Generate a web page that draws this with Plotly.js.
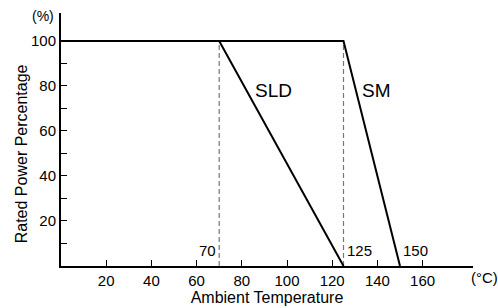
<!DOCTYPE html>
<html>
<head>
<meta charset="utf-8">
<script src="https://cdn.plot.ly/plotly-3.0.1.min.js"></script>
<style>html,body{margin:0;padding:0;background:#fff;}#chart{width:498px;height:308px;}</style>
</head>
<body>
<div id="chart"></div>
<script>
// Derating curves (ambient temperature °C, rated power %)
const sldTemp = [0, 70, 125];
const sldPower = [100, 100, 0];
const smTemp = [0, 125, 150];
const smPower = [100, 100, 0];
// Reference (knee) markers
const kneeSLD = [70, 70];
const kneeSM = [125, 125];
const kneePower = [0, 100];
// Tick labels
const xTickVals = [20, 40, 60, 80, 100, 120, 140, 160];
const xTickText = ['20', '40', '60', '80', '100', '120', '140', '160'];
const yTickVals = [10, 20, 30, 40, 50, 60, 70, 80, 90, 100];
const yTickText = ['', '20', '', '40', '', '60', '', '80', '', '100'];
// Point labels
const labelText = ['70', '125', '150'];
const labelX = [70, 125, 150];
const seriesNames = ['SLD', 'SM'];

const FONT = '"Liberation Sans", Arial, Helvetica, sans-serif';

const traces = [
  {x: kneeSLD, y: kneePower, mode: 'lines', line: {color: '#777', width: 1.2, dash: '5px,3px'}, hoverinfo: 'skip'},
  {x: kneeSM, y: kneePower, mode: 'lines', line: {color: '#777', width: 1.2, dash: '5px,3px'}, hoverinfo: 'skip'},
  {x: sldTemp, y: sldPower, mode: 'lines', name: seriesNames[0], line: {color: '#000', width: 2}},
  {x: smTemp, y: smPower, mode: 'lines', name: seriesNames[1], line: {color: '#000', width: 2}}
];

const annotations = [
  {x: labelX[0], y: 7, text: labelText[0], xanchor: 'right', yanchor: 'middle', xshift: -1, showarrow: false, font: {size: 15}},
  {x: labelX[1], y: 7, text: labelText[1], xanchor: 'left', yanchor: 'middle', xshift: 1, showarrow: false, font: {size: 15}},
  {x: labelX[2], y: 7, text: labelText[2], xanchor: 'left', yanchor: 'middle', xshift: 1, showarrow: false, font: {size: 15}},
  {x: 94, y: 78, text: seriesNames[0], xanchor: 'center', yanchor: 'middle', showarrow: false, font: {size: 19}},
  {x: 139.4, y: 78, text: seriesNames[1], xanchor: 'center', yanchor: 'middle', showarrow: false, font: {size: 19}},
  {xref: 'paper', yref: 'paper', x: -0.044, y: 0.988, xanchor: 'center', yanchor: 'middle', text: '(%)', showarrow: false, font: {size: 14}},
  {xref: 'paper', yref: 'paper', x: 1.027, y: -0.047, xanchor: 'center', yanchor: 'middle', text: '(°C)', showarrow: false, font: {size: 15}},
  {xref: 'paper', yref: 'paper', x: -0.095, y: 0.445, xanchor: 'center', yanchor: 'middle', text: 'Rated Power Percentage', textangle: -90, showarrow: false, font: {size: 16}}
];

const layout = {
  width: 498, height: 308,
  margin: {l: 61, r: 25, t: 13, b: 42, pad: 0},
  paper_bgcolor: '#fff', plot_bgcolor: '#fff',
  showlegend: false,
  font: {family: FONT, color: '#000', size: 15},
  xaxis: {
    range: [0, 182.3], showgrid: false, zeroline: false,
    showline: true, linecolor: '#000', linewidth: 2,
    ticks: 'inside', ticklen: 6, tickwidth: 1, tickcolor: '#000',
    tickvals: xTickVals, ticktext: xTickText,
    tickfont: {size: 15},
    title: {text: 'Ambient Temperature', font: {size: 16}, standoff: 4}
  },
  yaxis: {
    range: [0, 112.4], showgrid: false, zeroline: false,
    showline: true, linecolor: '#000', linewidth: 2,
    ticks: 'inside', ticklen: 6, tickwidth: 1, tickcolor: '#000',
    tickvals: yTickVals, ticktext: yTickText,
    tickfont: {size: 15}
  },
  annotations: annotations
};

Plotly.newPlot('chart', traces, layout, {staticPlot: true, displayModeBar: false});
</script>
</body>
</html>
